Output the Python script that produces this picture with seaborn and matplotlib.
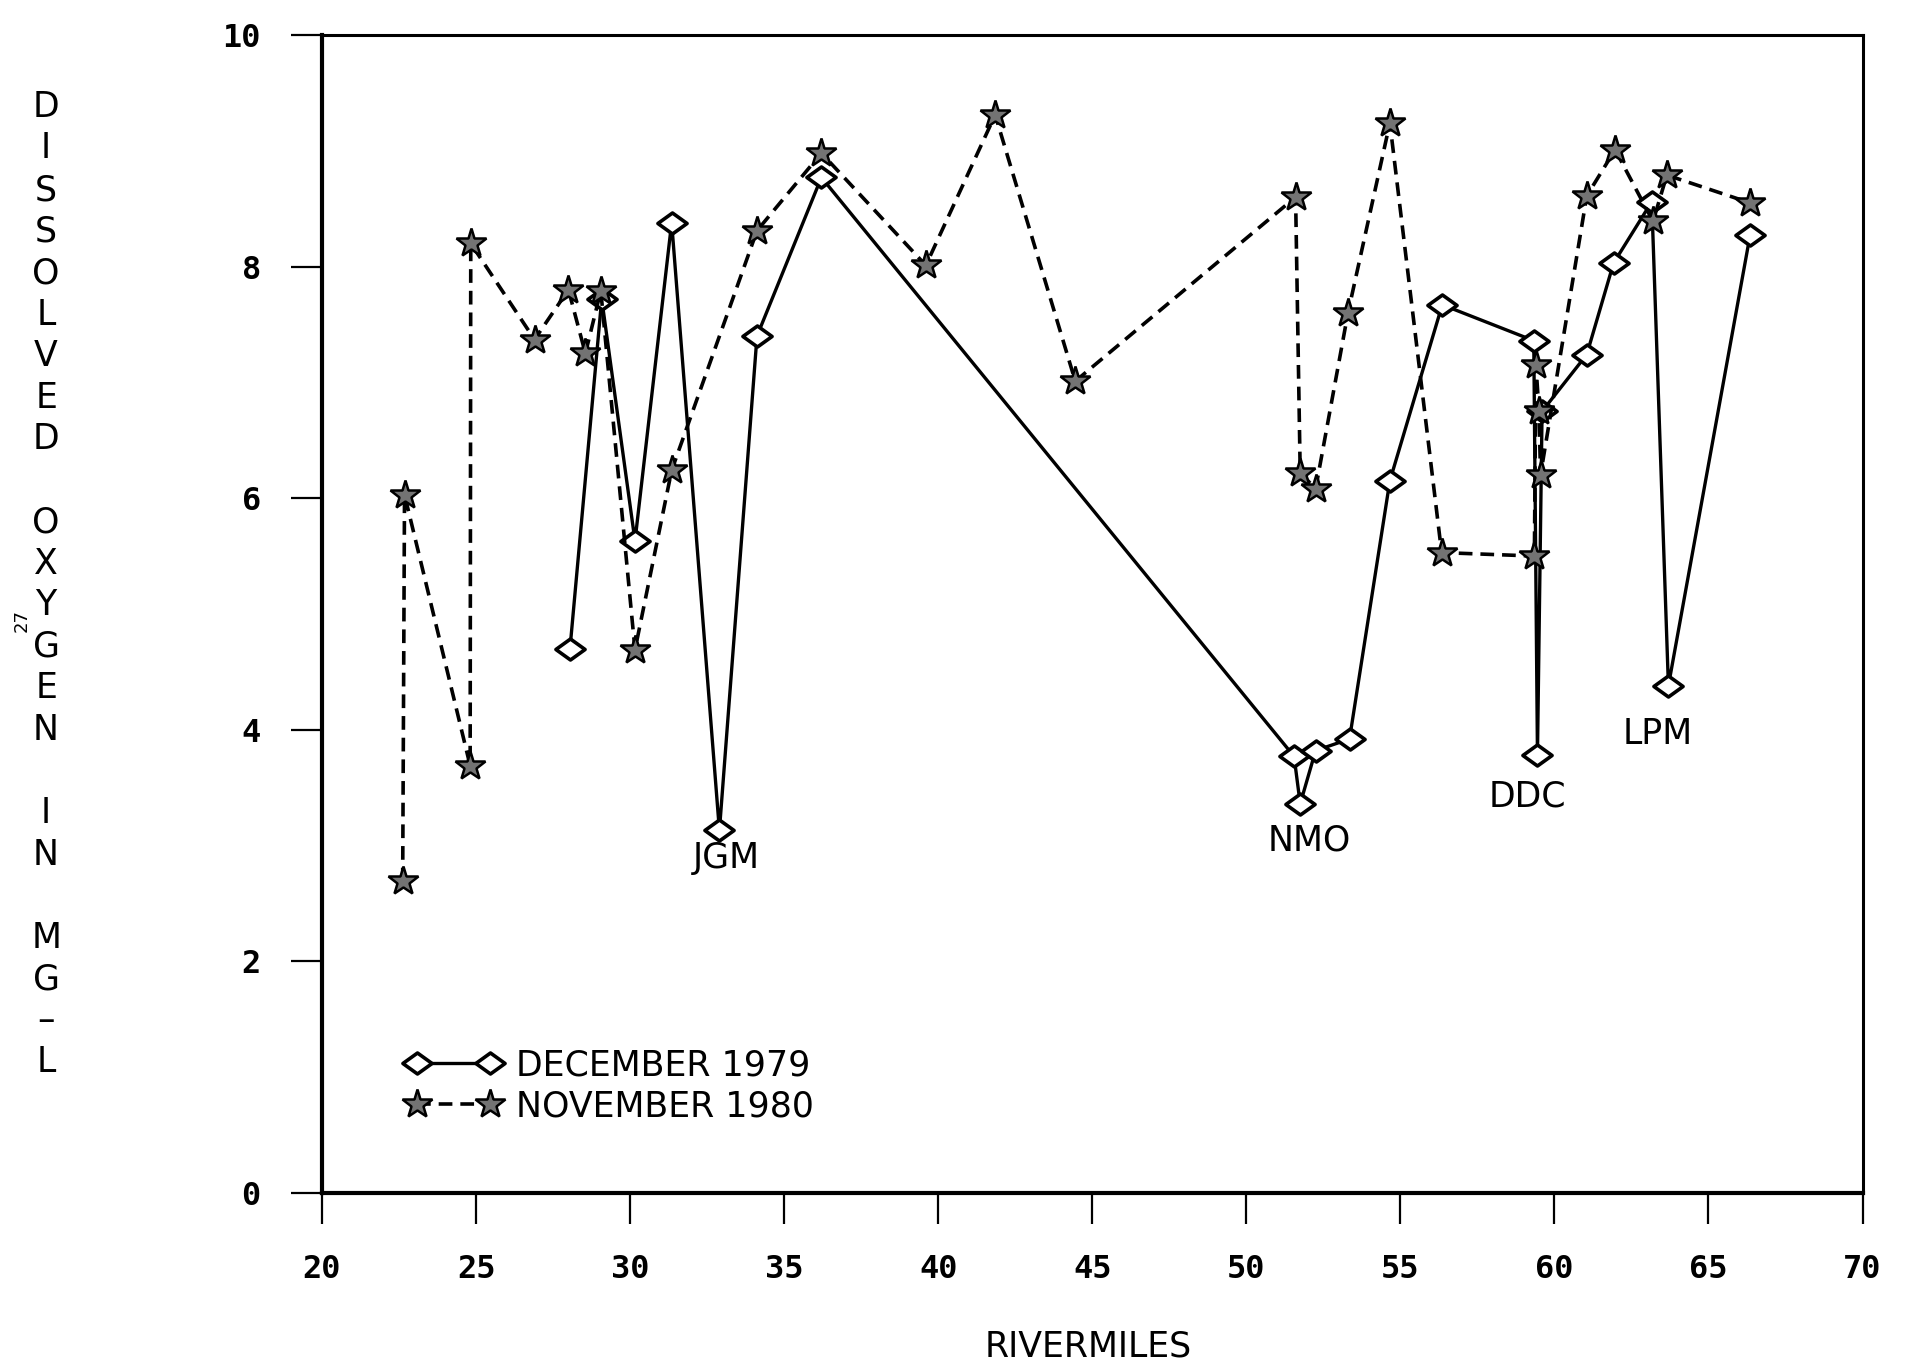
import matplotlib
matplotlib.use("Agg")
import matplotlib.pyplot as plt
import seaborn as sns
import numpy as np
from matplotlib.path import Path

# ---- data ----
dec_x = [28.05, 29.08, 30.16, 31.35, 32.90, 34.12, 36.21, 51.55, 51.75, 52.25,
         53.35, 54.66, 56.36, 59.33, 59.45, 59.60, 61.05, 61.92, 63.16, 63.70, 66.35]
dec_y = [4.70, 7.72, 5.63, 8.38, 3.13, 7.40, 8.77, 3.77, 3.36, 3.82,
         3.92, 6.15, 7.67, 7.36, 3.78, 6.75, 7.24, 8.03, 8.56, 4.38, 8.27]

nov_x = [22.62, 22.68, 24.81, 24.83, 26.90, 28.00, 28.55, 29.05, 30.16, 31.35,
         34.12, 36.21, 39.60, 41.85, 44.45, 51.60, 51.75, 52.25, 53.30, 54.66,
         56.34, 59.35, 59.40, 59.50, 59.55, 61.05, 61.97, 63.20, 63.65, 66.35]
nov_y = [2.69, 6.03, 3.69, 8.20, 7.37, 7.80, 7.25, 7.79, 4.69, 6.24,
         8.31, 8.98, 8.01, 9.31, 7.01, 8.60, 6.22, 6.08, 7.60, 9.24,
         5.53, 5.50, 7.15, 6.75, 6.20, 8.61, 9.01, 8.39, 8.79, 8.55]

series_labels = ["DECEMBER 1979", "NOVEMBER 1980"]
site_labels = ["JGM", "NMO", "DDC", "LPM"]
site_x = [33.13, 52.06, 59.12, 63.34]
site_y = [2.89, 3.04, 3.42, 3.96]

x_ticks = [20, 25, 30, 35, 40, 45, 50, 55, 60, 65, 70]
y_ticks = [0, 2, 4, 6, 8, 10]
x_label = "RIVERMILES"
y_label = "DISSOLVED OXYGEN IN MG/L"

# ---- style ----
sns.set_style("ticks")
plt.rcParams["font.family"] = ["DejaVu Sans", "DejaVu Sans Mono"]
plt.rcParams["text.color"] = "black"
plt.rcParams["xtick.color"] = "black"
plt.rcParams["ytick.color"] = "black"
plt.rcParams["xtick.labelcolor"] = "black"
plt.rcParams["ytick.labelcolor"] = "black"

fig = plt.figure(figsize=(19.05, 13.66), dpi=100)
ax = fig.add_axes([0.169, 0.1267, 0.8087, 0.8477])

diamond = Path([(-1.0, 0.0), (0.0, 0.72), (1.0, 0.0), (0.0, -0.72), (-1.0, 0.0)],
               [Path.MOVETO, Path.LINETO, Path.LINETO, Path.LINETO, Path.CLOSEPOLY])

sns.lineplot(x=dec_x, y=dec_y, sort=False, estimator=None, ax=ax,
             color="black", linewidth=2.4, marker=diamond, markersize=21,
             markerfacecolor="white", markeredgecolor="black", markeredgewidth=2.6,
             label=series_labels[0], legend=False)
sns.lineplot(x=nov_x, y=nov_y, sort=False, estimator=None, ax=ax,
             color="black", linewidth=2.6, linestyle=(0, (3.8, 2.2)), marker="*",
             markersize=22, markerfacecolor="0.45", markeredgecolor="black",
             markeredgewidth=1.8, label=series_labels[1], legend=False)

for lab, xx, yy in zip(site_labels, site_x, site_y):
    ax.text(xx, yy, lab, ha="center", va="center", fontsize=25, color="black")

ax.set_xlim(20, 70)
ax.set_ylim(0, 10)
ax.set_xticks(x_ticks)
ax.set_yticks(y_ticks)
ax.set_xticklabels([str(t) for t in x_ticks], fontsize=23, fontweight="bold",
                   family="DejaVu Sans Mono")
ax.set_yticklabels([str(t) for t in y_ticks], fontsize=23, fontweight="bold",
                   family="DejaVu Sans Mono")
ax.tick_params(axis="both", direction="out", length=22, width=1.6, color="black",
               labelcolor="black", pad=22)

for side in ["left", "bottom"]:
    ax.spines[side].set_linewidth(3.0)
for side in ["top", "right"]:
    ax.spines[side].set_linewidth(2.2)
for s in ax.spines.values():
    s.set_color("black")

ax.set_xlabel("")
ax.set_ylabel("")
fig.text(0.571, 0.0142, x_label, ha="center", va="center", fontsize=25)

# stacked vertical y label
n = len(y_label)
ytop, ybot = 0.9217, 0.2224
for i, ch in enumerate(y_label):
    yy = ytop - (ytop - ybot) * i / (n - 1)
    c = "\u2013" if ch == "/" else ch
    fig.text(0.0242, yy, c, ha="center", va="center", fontsize=25)

fig.text(0.0115, 0.546, "27", ha="center", va="center", fontsize=13, rotation=90)

handles = ax.get_lines()[:2]
leg = ax.legend(handles, series_labels, loc="lower left",
                bbox_to_anchor=(0.055, 0.060), frameon=False, numpoints=2,
                handlelength=2.7, handletextpad=0.45, labelspacing=0.2,
                fontsize=25, borderaxespad=0, borderpad=0)

fig.savefig("out.png", dpi=100)
